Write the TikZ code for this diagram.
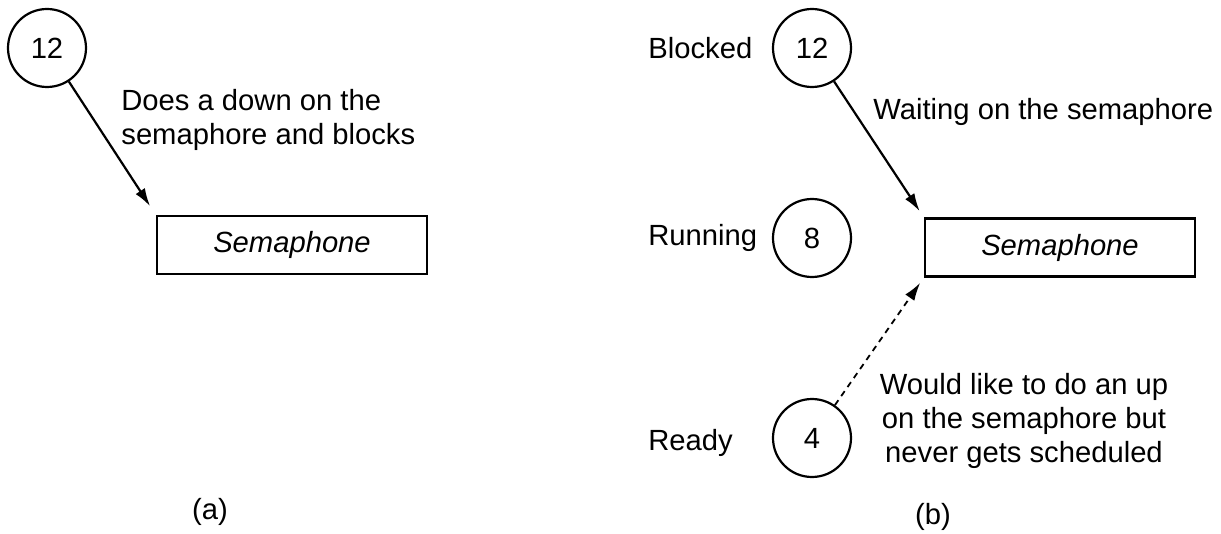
\documentclass[tikz,border=0pt]{standalone}
\usepackage{fontspec}
\setmainfont{Liberation Sans}
\usetikzlibrary{arrows.meta}
\begin{document}
\begin{tikzpicture}[x=0.5pt,y=-0.5pt,font=\fontsize{14.6}{16.8}\selectfont,
	proc/.style={draw,circle,line width=1.1pt,minimum size=39pt,inner sep=0pt},
	sem/.style={draw,line width=1.4pt,minimum width=135pt,minimum height=29pt,font=\fontsize{14.6}{16.8}\selectfont\itshape},
	note/.style={align=left,inner sep=0pt},
	state/.style={anchor=west,inner sep=0pt},
	tip/.style={-{Latex[length=9pt,width=5.5pt]},line width=1.1pt}]
	\useasboundingbox (0,0) rectangle (1221,534);
	% (a)
	\node[proc] (blka) at (47,48) {12};
	\node[sem] (sema) at (292,245) {Semaphone};
	\node[note,anchor=west] (downa) at (121,120) {Does a down on the\\semaphore and blocks};
	\draw[tip,shorten >=5pt] (blka) -- (sema.north west);
	\node (capa) at (210,512) {(a)};
	% (b)
	\node[proc] (blkb) at (812,48) {12};
	\node[proc] (run) at (812,238) {8};
	\node[proc] (rdy) at (812,438) {4};
	\node[state] (lblk) at (648,48) {Blocked};
	\node[state] (lrun) at (648,238) {Running};
	\node[state] (lrdy) at (648,443) {Ready};
	\node[sem] (semb) at (1060,247.5) {Semaphone};
	\node[note,anchor=west] (wait) at (873,112) {Waiting on the semaphore};
	\node[note,align=center] (upb) at (1024,421) {Would like to do an up\\on the semaphore but\\never gets scheduled};
	\draw[tip,shorten >=3.5pt] (blkb) -- (semb.north west);
	\draw[tip,line width=0.9pt,dash pattern=on 3pt off 2.5pt,shorten >=3pt] (rdy) -- (semb.south west);
	\node (capb) at (933,517) {(b)};
\end{tikzpicture}
\end{document}
